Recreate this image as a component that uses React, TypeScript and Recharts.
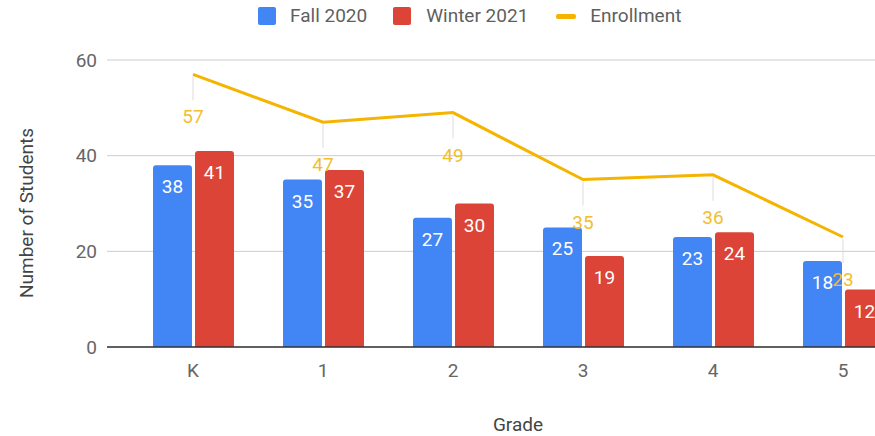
import React from 'react';
import { ComposedChart, Bar, Line, XAxis, YAxis, CartesianGrid, Legend, LabelList } from 'recharts';

const grades = ['K', '1', '2', '3', '4', '5'];
const fall2020 = [38, 35, 27, 25, 23, 18];
const winter2021 = [41, 37, 30, 19, 24, 12];
const enrollment = [57, 47, 49, 35, 36, 23];
const yTicks = [0, 20, 40, 60];

const data = grades.map((g, i) => ({
  grade: g,
  fall: fall2020[i],
  winter: winter2021[i],
  enrollment: enrollment[i],
}));

const FONT = 'Roboto, "Noto Sans", sans-serif';
const BLUE = '#4285F4';
const RED = '#DB4437';
const YELLOW = '#F4B400';
const YELLOW_TEXT = '#F2BE2E';

const BarValueLabel = (props: any) => {
  const { x, y, width, value } = props;
  return (
    <text x={x + width / 2} y={y + 28} textAnchor="middle" fill="#ffffff" fontSize={19} fontFamily={FONT}>
      {value}
    </text>
  );
};

const LineValueLabel = (props: any) => {
  const { x, y, value } = props;
  return (
    <g>
      <line x1={x} y1={y + 2} x2={x} y2={y + 26} stroke="#dddddd" strokeWidth={1} />
      <text x={x} y={y + 49} textAnchor="middle" fill={YELLOW_TEXT} fontSize={19} fontFamily={FONT}>
        {value}
      </text>
    </g>
  );
};

const LegendContent = () => {
  const textStyle: React.CSSProperties = { fontFamily: FONT, fontSize: 19, color: '#5f5f5f', lineHeight: '20px' };
  return (
    <div style={{ display: 'flex', alignItems: 'center', whiteSpace: 'nowrap' }}>
      <div style={{ width: 18, height: 18, background: BLUE, borderRadius: 2 }} />
      <span style={{ ...textStyle, marginLeft: 14 }}>Fall 2020</span>
      <div style={{ width: 18, height: 18, background: RED, borderRadius: 2, marginLeft: 26 }} />
      <span style={{ ...textStyle, marginLeft: 15 }}>Winter 2021</span>
      <div style={{ width: 20, height: 5, background: YELLOW, borderRadius: 2, marginLeft: 28 }} />
      <span style={{ ...textStyle, marginLeft: 14 }}>Enrollment</span>
    </div>
  );
};

const YLabel = (props: any) => {
  const { viewBox } = props;
  const cx = viewBox.x + 33;
  const cy = 213;
  return (
    <text x={cx} y={cy} transform={`rotate(-90 ${cx} ${cy})`} textAnchor="middle" fill="#444444" fontSize={19} fontFamily={FONT}>
      Number of Students
    </text>
  );
};

const XLabel = (props: any) => {
  const { viewBox } = props;
  return (
    <text x={viewBox.x + viewBox.width / 2} y={viewBox.y + 84} textAnchor="middle" fill="#444444" fontSize={19} fontFamily={FONT}>
      Grade
    </text>
  );
};

export default function App() {
  return (
    <div style={{ position: 'fixed', left: 0, top: 0, width: 875, height: 436, overflow: 'hidden', background: '#fff' }}>
      <ComposedChart
        width={929}
        height={436}
        data={data}
        margin={{ top: 60, right: 0, bottom: 0, left: 0 }}
        barGap={3}
      >
        <CartesianGrid vertical={false} stroke="#cccccc" />
        <XAxis
          dataKey="grade"
          height={89}
          padding={{ left: 21, right: 21 }}
          tickLine={false}
          tickSize={0}
          tickMargin={17}
          axisLine={{ stroke: '#333333', strokeWidth: 1.5 }}
          tick={{ fill: '#666666', fontSize: 19, fontFamily: FONT }}
          label={<XLabel />}
        />
        <YAxis
          width={107}
          domain={[0, 60]}
          ticks={yTicks}
          tickLine={false}
          axisLine={false}
          tickSize={0}
          tickMargin={10}
          tick={{ fill: '#666666', fontSize: 19, fontFamily: FONT }}
          label={<YLabel />}
        />
        <Legend
          layout="horizontal"
          verticalAlign="middle"
          align="center"
          content={<LegendContent />}
          wrapperStyle={{ top: 6, left: 258, width: 'auto' }}
        />
        <Bar dataKey="fall" name="Fall 2020" fill={BLUE} barSize={39} radius={[3, 3, 0, 0]} isAnimationActive={false}>
          <LabelList dataKey="fall" content={<BarValueLabel />} />
        </Bar>
        <Bar dataKey="winter" name="Winter 2021" fill={RED} barSize={39} radius={[3, 3, 0, 0]} isAnimationActive={false}>
          <LabelList dataKey="winter" content={<BarValueLabel />} />
        </Bar>
        <Line
          type="linear"
          dataKey="enrollment"
          name="Enrollment"
          stroke={YELLOW}
          strokeWidth={3}
          dot={false}
          activeDot={false}
          isAnimationActive={false}
        >
          <LabelList dataKey="enrollment" content={<LineValueLabel />} />
        </Line>
      </ComposedChart>
    </div>
  );
}
